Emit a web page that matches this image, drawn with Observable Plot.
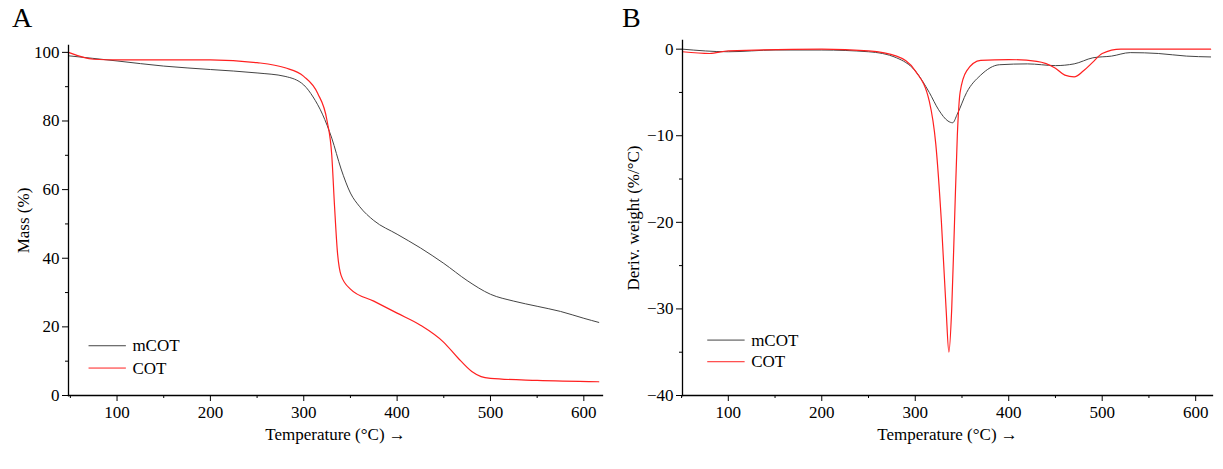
<!DOCTYPE html>
<html><head><meta charset="utf-8">
<script src="https://cdn.jsdelivr.net/npm/d3@7"></script>
<script src="https://cdn.jsdelivr.net/npm/@observablehq/plot@0.6"></script>
<style>
body{margin:0;background:#fff;font-family:"Liberation Serif",serif;}
#wrap{position:relative;width:1223px;height:469px;}
.p{position:absolute;top:0;}
.lab{position:absolute;font-size:28px;}
</style></head><body>
<div id="wrap">
<div class="p" id="a" style="left:0"></div>
<div class="p" id="b" style="left:610px"></div>
<div class="lab" style="left:12px;top:2px">A</div>
<div class="lab" style="left:622px;top:2px">B</div>
</div>
<script>
const mcotA=[[48,99],[100,97.5],[150,96],[200,95],[250,94],[280,93],[300,90.5],[310,87],[320,82],[330,75],[340,66],[350,59],[360,55],[375,51],[400,47],[425,43],[450,38.5],[475,33.5],[500,29.5],[525,27.5],[550,26],[575,24.5],[600,22.5],[616,21.3]];
const cotA=[[48,100],[75,98],[100,97.8],[200,97.8],[250,97],[280,95.5],[300,93],[315,88],[325,80],[330,70],[333,55],[336,42],[340,35],[350,31],[375,27.5],[400,24],[425,20.5],[450,15.5],[465,11],[480,7],[490,5.5],[500,5],[550,4.4],[616,4]];
const mcotB=[[51,0],[100,-0.3],[150,-0.1],[200,-0.1],[250,-0.3],[280,-1],[300,-2.5],[315,-5],[325,-7],[335,-8.3],[340,-8.5],[345,-7.5],[355,-5],[370,-3],[390,-1.8],[420,-1.7],[450,-1.9],[470,-1.7],[490,-1],[510,-0.8],[530,-0.4],[560,-0.5],[590,-0.8],[616,-0.9]];
const cotB=[[51,-0.3],[80,-0.5],[100,-0.2],[200,0],[250,-0.2],[280,-0.8],[300,-2.5],[315,-6],[322,-11],[328,-20],[333,-30],[336,-35],[339,-30],[342,-20],[345,-10],[348,-5],[355,-2.5],[370,-1.3],[400,-1.2],[430,-1.4],[450,-2.2],[460,-3],[470,-3.2],[480,-2.5],[490,-1.5],[500,-0.5],[520,0],[616,0]];
const xTicks=[100,200,300,400,500,600];
const xMinor=[50,150,250,350,450,550];
const yTicksA=[0,20,40,60,80,100], yMinorA=[10,30,50,70,90];
const yTicksB=[-40,-30,-20,-10,0], yMinorB=[-35,-25,-15,-5];
const names=["mCOT","COT"], colors=["#444","#ff2020"];

function panel(el,opt){
  const p=Plot.plot({
    width:opt.width,height:469,marginLeft:opt.ml,marginRight:opt.mr,marginTop:opt.mt,marginBottom:74,
    style:{fontFamily:"Liberation Serif, serif",fontSize:"17px",color:"#000",background:"#fff"},
    x:{domain:opt.xd},y:{domain:opt.yd},
    marks:[
      Plot.line(opt.s1,{x:d=>d[0],y:d=>d[1],stroke:colors[0],strokeWidth:1,curve:"monotone-x"}),
      Plot.line(opt.s2,{x:d=>d[0],y:d=>d[1],stroke:colors[1],strokeWidth:1.2,curve:"monotone-x"}),
      Plot.frame({anchor:"left",stroke:"#000",strokeWidth:1.3}),
      Plot.frame({anchor:"bottom",stroke:"#000",strokeWidth:1.3}),
      Plot.axisX({ticks:xTicks,tickSize:6,tickPadding:4,label:"Temperature (°C)",labelAnchor:"center",labelOffset:44,fontSize:17}),
      Plot.axisX({ticks:xMinor,tickSize:3,text:null,label:null}),
      Plot.axisY({ticks:opt.yt,tickSize:6,tickPadding:3,tickFormat:d=>d<0?"\u2212"+(-d):d,label:opt.yl,labelAnchor:"center",labelOffset:opt.lo,labelArrow:"none",fontSize:17}),
      Plot.axisY({ticks:opt.ym,tickSize:3,text:null,label:null}),
      Plot.ruleY([0,1],{x1:opt.lx[0],x2:opt.lx[1],y:i=>opt.ly[i],stroke:i=>colors[i],strokeWidth:1}),
      Plot.text([0,1],{x:opt.lx[1],y:i=>opt.ly[i],text:i=>names[i],dx:6,textAnchor:"start",fontSize:17})
    ]
  });
  document.getElementById(el).appendChild(p);
}
panel("a",{width:610,ml:68,mr:8,mt:45,xd:[48,620],yd:[0,102],s1:mcotA,s2:cotA,yt:yTicksA,ym:yMinorA,yl:"Mass (%)",lo:52,lx:[70,110],ly:[14.5,8]});
panel("b",{width:613,ml:72,mr:11,mt:40,xd:[51,618],yd:[-40,1],s1:mcotB,s2:cotB,yt:yTicksB,ym:yMinorB,yl:"Deriv. weight (%/°C)",lo:56,lx:[78,118],ly:[-33.6,-36.1]});
</script></body></html>
